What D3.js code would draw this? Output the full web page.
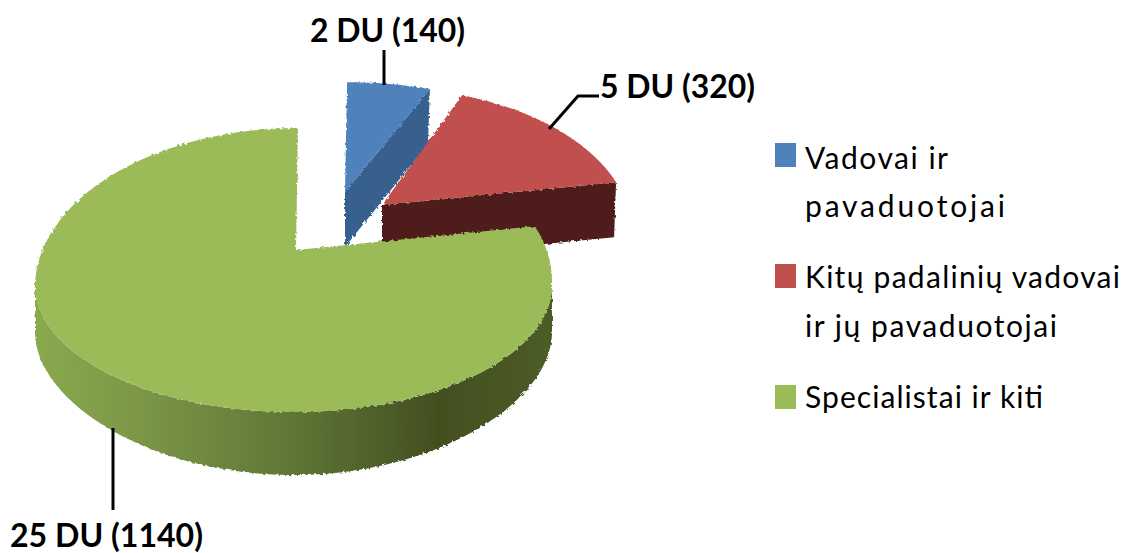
<!DOCTYPE html>
<html>
<head>
<meta charset="utf-8">
<script src="https://cdn.jsdelivr.net/npm/d3@7"></script>
<style>
  html, body { margin: 0; padding: 0; background: #fff; }
  text { font-family: Lato, "Open Sans", sans-serif; fill: #000; }
</style>
</head>
<body>
<div id="chart"></div>
<script>
const categories = ['Vadovai ir pavaduotojai', 'Kitų padalinių vadovai ir jų pavaduotojai', 'Specialistai ir kiti']
const values = [140, 320, 1140]
const duCounts = [2, 5, 25]
const legendLines = [['Vadovai ir', 'pavaduotojai'], ['Kitų padalinių vadovai', 'ir jų pavaduotojai'], ['Specialistai ir kiti']]

const width = 1130
const height = 553
const rad = Math.PI / 180

const svg = d3.select('#chart').append('svg')
  .attr('width', width)
  .attr('height', height)
  .style('display', 'block')

const defs = svg.append('defs')
const wallGrad = defs.append('linearGradient')
  .attr('id', 'wall')
  .attr('gradientUnits', 'userSpaceOnUse')
  .attr('x1', 35).attr('x2', 552).attr('y1', 0).attr('y2', 0)
wallGrad.selectAll('stop')
  .data([[0, '#8aa94f'], [0.2, '#7b9747'], [0.5, '#5f7636'], [0.78, '#434f1f'], [1, '#4c5c27']])
  .enter().append('stop')
  .attr('offset', d => d[0])
  .attr('stop-color', d => d[1])

// the reference has rough, serrated edges
const rough = defs.append('filter')
  .attr('id', 'rough')
  .attr('x', '-5%').attr('y', '-5%').attr('width', '110%').attr('height', '110%')
rough.append('feTurbulence')
  .attr('type', 'fractalNoise')
  .attr('baseFrequency', 0.35)
  .attr('numOctaves', 1)
  .attr('seed', 3)
  .attr('result', 'noise')
rough.append('feDisplacementMap')
  .attr('in', 'SourceGraphic')
  .attr('in2', 'noise')
  .attr('scale', 4)

// pie angles, then warped because the photographed pie has strong perspective
const arcs = d3.pie().sort(null)(values)
const warp = d3.scaleLinear()
  .domain([0, arcs[0].endAngle, arcs[1].endAngle, 2 * Math.PI])
  .range([0, 18 * rad, 68 * rad, 2 * Math.PI])

// outline of the top face, an egg shape wider towards the viewer
const apex = [296, 250]
function rim(a) {
  const t = warp(a)
  const c = Math.cos(t)
  return [293.5 + 258.5 * Math.sin(t) + 4.5 * Math.max(0, c), 285 - (c > 0 ? 157 : 127) * c]
}
function wallDepth(a) {
  const c = Math.cos(warp(a))
  return 47 + 16 * c * c
}

const slices = [
  { arc: arcs[0], o: [345, 192], sx: 1.04, sy: 0.9, top: '#4f81bd', side: '#38618f' },
  { arc: arcs[1], o: [382, 205], sx: 0.98, sy: 0.96, top: '#c0504d', side: '#4f1f1b' },
  { arc: arcs[2], o: apex, sx: 1, sy: 1, top: '#9bbb59', side: 'url(#wall)' }
]

function slicePoint(s, a) {
  const p = rim(a)
  return [s.o[0] + s.sx * (p[0] - apex[0]), s.o[1] + s.sy * (p[1] - apex[1])]
}

const line = d3.line()
const pieG = svg.append('g').attr('filter', 'url(#rough)')

function drawTop(s) {
  const pts = d3.range(s.arc.startAngle, s.arc.endAngle, 0.01).map(a => slicePoint(s, a))
  pts.push(slicePoint(s, s.arc.endAngle))
  pieG.append('path')
    .attr('d', line([s.o].concat(pts)) + 'Z')
    .attr('fill', s.top)
}

// cut face of a slice along its end angle
function drawCut(s, depth) {
  const p = slicePoint(s, s.arc.endAngle)
  const pts = [s.o, p, [p[0] - 2, p[1] + depth], [s.o[0], s.o[1] + depth]]
  pieG.append('path')
    .attr('d', line(pts) + 'Z')
    .attr('fill', s.side)
}

drawCut(slices[0], 55)
drawTop(slices[0])
drawCut(slices[1], 55)
drawTop(slices[1])

// outer wall of the big slice
const wallAngles = d3.range(warp.invert(90 * rad), warp.invert(270 * rad), 0.01)
const wallTop = wallAngles.map(rim)
const wallBottom = wallAngles.map(a => {
  const p = rim(a)
  return [p[0], p[1] + wallDepth(a)]
}).reverse()
pieG.append('path')
  .attr('d', line(wallTop.concat(wallBottom)) + 'Z')
  .attr('fill', 'url(#wall)')
drawTop(slices[2])

// leader lines
const leaders = [
  [[384, 50], [384, 85]],
  [[549, 129], [578, 96], [599, 96]],
  [[113, 428], [113, 510]]
]
svg.append('g').selectAll('path').data(leaders).enter()
  .append('path')
  .attr('d', d => line(d))
  .attr('fill', 'none')
  .attr('stroke', '#000')
  .attr('stroke-width', 3)

// data labels
const labelPos = [
  { x: 310, y: 42, w: 155 },
  { x: 600, y: 98, w: 155 },
  { x: 10, y: 547, w: 193 }
]
svg.append('g').selectAll('text').data(values).enter()
  .append('text')
  .attr('x', (d, i) => labelPos[i].x)
  .attr('y', (d, i) => labelPos[i].y)
  .attr('textLength', (d, i) => labelPos[i].w)
  .attr('lengthAdjust', 'spacingAndGlyphs')
  .style('font-size', '32px')
  .style('font-weight', 700)
  .text((d, i) => duCounts[i] + ' DU (' + d + ')')

// legend
const legendY = [143, 264, 385]
const legendBase = [[169, 217], [288, 337], [408]]
const legendW = [[143, 200], [315, 252], [238]]
const legend = svg.append('g').selectAll('g').data(categories).enter().append('g')
legend.append('rect')
  .attr('x', 775)
  .attr('y', (d, i) => legendY[i])
  .attr('width', 21)
  .attr('height', 24)
  .attr('fill', (d, i) => slices[i].top)
legend.each(function (d, i) {
  d3.select(this).selectAll('text').data(legendLines[i]).enter()
    .append('text')
    .attr('x', 805)
    .attr('y', (t, j) => legendBase[i][j])
    .attr('textLength', (t, j) => legendW[i][j])
    .attr('lengthAdjust', 'spacing')
    .style('font-size', '30px')
    .text(t => t)
})
</script>
</body>
</html>
